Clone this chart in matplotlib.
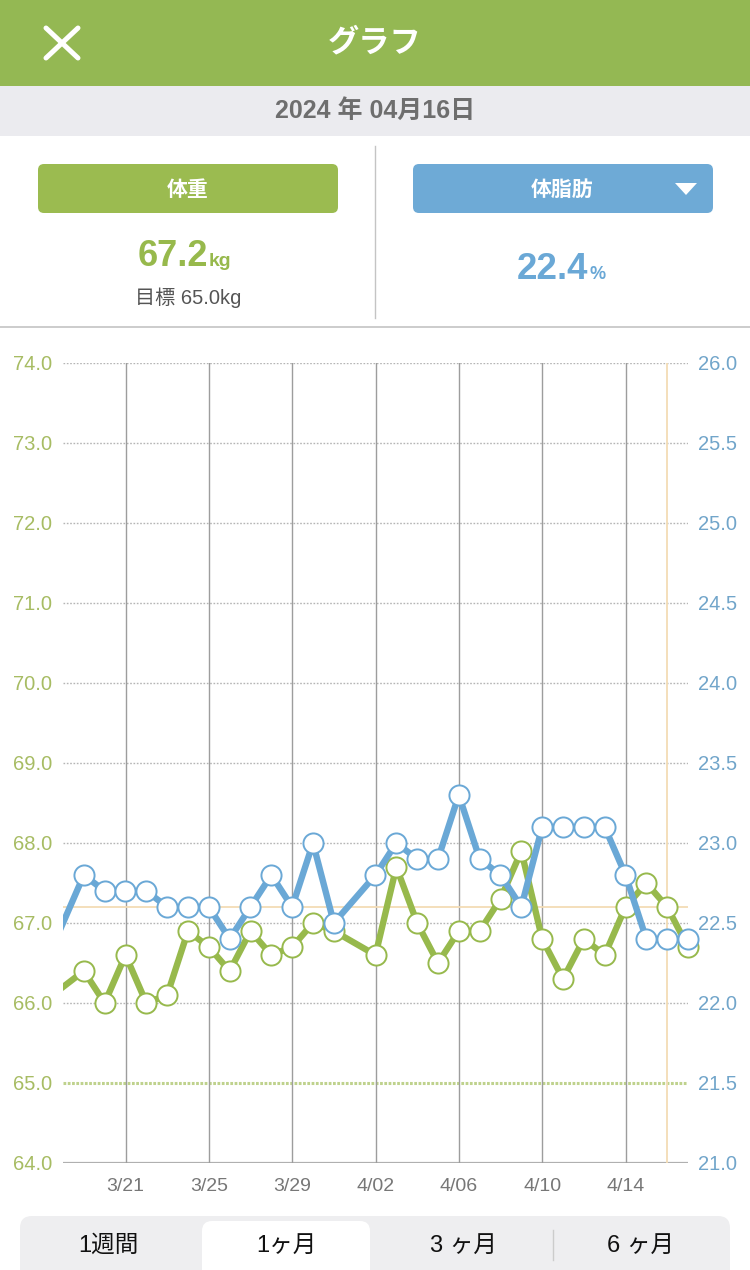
import matplotlib
matplotlib.use("Agg")
import matplotlib.pyplot as plt
import matplotlib.dates as mdates
from matplotlib.patches import FancyBboxPatch, Rectangle, Polygon
import pandas as pd

plt.rcParams['font.family'] = ['Noto Sans CJK JP', 'DejaVu Sans']
NUM_FONT = ['Liberation Sans', 'Noto Sans CJK JP']

# data (3/18 and 4/01 have no entry)
dates = ["2024-03-17", "2024-03-19", "2024-03-20", "2024-03-21", "2024-03-22",
         "2024-03-23", "2024-03-24", "2024-03-25", "2024-03-26", "2024-03-27",
         "2024-03-28", "2024-03-29", "2024-03-30", "2024-03-31", "2024-04-02",
         "2024-04-03", "2024-04-04", "2024-04-05", "2024-04-06", "2024-04-07",
         "2024-04-08", "2024-04-09", "2024-04-10", "2024-04-11", "2024-04-12",
         "2024-04-13", "2024-04-14", "2024-04-15", "2024-04-16", "2024-04-17"]
weight = [66.0, 66.4, 66.0, 66.6, 66.0, 66.1, 66.9, 66.7, 66.4, 66.9,
          66.6, 66.7, 67.0, 66.9, 66.6, 67.7, 67.0, 66.5, 66.9, 66.9,
          67.3, 67.9, 66.8, 66.3, 66.8, 66.6, 67.2, 67.5, 67.2, 66.7]
body_fat = [22.2, 22.8, 22.7, 22.7, 22.7, 22.6, 22.6, 22.6, 22.4, 22.6,
            22.8, 22.6, 23.0, 22.5, 22.8, 23.0, 22.9, 22.9, 23.3, 22.9,
            22.8, 22.6, 23.1, 23.1, 23.1, 23.1, 22.8, 22.4, 22.4, 22.4]

tick_dates = ["2024-03-21", "2024-03-25", "2024-03-29", "2024-04-02",
              "2024-04-06", "2024-04-10", "2024-04-14"]
tick_labels = ["3/21", "3/25", "3/29", "4/02", "4/06", "4/10", "4/14"]
weight_ticks = [64, 65, 66, 67, 68, 69, 70, 71, 72, 73, 74]
fat_ticks = [21.0, 21.5, 22.0, 22.5, 23.0, 23.5, 24.0, 24.5, 25.0, 25.5, 26.0]

x_start, x_end = "2024-03-18", "2024-04-17"
selected_date = "2024-04-16"
selected_weight = 67.2
selected_fat = 22.4
goal_weight = 65.0

GREEN = '#97b94c'
GREEN_TXT = '#a7bc63'
BLUE = '#6aa8d6'
BLUE_TXT = '#71a5ca'
ORANGE = '#f3dcb5'

fig = plt.figure(figsize=(7.5, 12.7), dpi=100)

# ---- app frame (pixel coordinates) ----
ui = fig.add_axes([0, 0, 1, 1], zorder=0)
ui.set_xlim(0, 750)
ui.set_ylim(1270, 0)
ui.axis('off')

ui.add_patch(Rectangle((0, 0), 750, 86, color='#94b853', lw=0))
ui.plot([46, 78], [28, 58], color='white', lw=3.6, solid_capstyle='round')
ui.plot([78, 46], [28, 58], color='white', lw=3.6, solid_capstyle='round')
ui.text(375, 42, "グラフ", color='white', fontsize=22.5, fontweight='bold',
        ha='center', va='center')

ui.add_patch(Rectangle((0, 86), 750, 50, color='#ebebef', lw=0))
ui.text(375, 111, "2024 年 04月16日", color='#6e6e6e', fontsize=18,
        fontweight='bold', ha='center', va='center', family=NUM_FONT)

ui.plot([375, 375], [146, 318], color='#c4c4c4', lw=1)
ui.plot([0, 750], [327, 327], color='#c4c4c4', lw=1.2)

ui.add_patch(FancyBboxPatch((38, 164), 300, 49, boxstyle="round,pad=0,rounding_size=6",
                            color='#9bbb50', lw=0))
ui.text(188, 189, "体重", color='white', fontsize=15, fontweight='bold',
        ha='center', va='center')
ui.add_patch(FancyBboxPatch((413, 164), 300, 49, boxstyle="round,pad=0,rounding_size=6",
                            color='#6eaad6', lw=0))
ui.text(562, 189, "体脂肪", color='white', fontsize=15, fontweight='bold',
        ha='center', va='center')
ui.add_patch(Polygon([(675, 183), (697, 183), (686, 195)], color='white', lw=0))

ui.text(208, 266, f"{selected_weight:.1f}", color=GREEN, fontsize=26,
        fontweight='bold', ha='right', va='baseline', family=NUM_FONT)
ui.text(209, 266, "kg", color=GREEN, fontsize=14, fontweight='bold',
        ha='left', va='baseline', family=NUM_FONT)
ui.text(188, 298, f"目標 {goal_weight:.1f}kg", color='#555555', fontsize=14.5,
        ha='center', va='center', family=NUM_FONT)
ui.text(588, 279, f"{selected_fat:.1f}", color=BLUE, fontsize=26.5,
        fontweight='bold', ha='right', va='baseline', family=NUM_FONT)
ui.text(589, 279, "%", color=BLUE, fontsize=13, fontweight='bold',
        ha='left', va='baseline', family=NUM_FONT)

# period selector
ui.add_patch(FancyBboxPatch((20, 1216), 710, 70, boxstyle="round,pad=0,rounding_size=12",
                            color='#eeeef0', lw=0))
ui.add_patch(FancyBboxPatch((202, 1221), 168, 60, boxstyle="round,pad=0,rounding_size=10",
                            color='white', lw=0))
ui.plot([553, 553], [1230, 1260], color='#cccccc', lw=1)
for label, cx in zip(["1週間", "1ヶ月", "3 ヶ月", "6 ヶ月"], [108, 286, 463, 641]):
    ui.text(cx, 1246, label, color='#111111', fontsize=17, ha='center', va='center',
            family=NUM_FONT)

# ---- chart ----
ax = fig.add_axes([63 / 750, 107 / 1270, 625 / 750, 800 / 1270], zorder=1)
ax.patch.set_alpha(0)
x = mdates.date2num(pd.to_datetime(dates))
x0 = mdates.date2num(pd.Timestamp(x_start))
x1 = mdates.date2num(pd.Timestamp(x_end))
xsel = mdates.date2num(pd.Timestamp(selected_date))
xt = mdates.date2num(pd.to_datetime(tick_dates))
shown = x >= x0

ax.set_xlim(x0, x1)
ax.set_ylim(64, 74)
for s in ax.spines.values():
    s.set_visible(False)

for v in weight_ticks[2:]:
    ax.axhline(v, color='#b5b5b5', lw=1, ls=(0, (1.2, 1.2)), zorder=1)
ax.axhline(goal_weight, color='#bfd28d', lw=2.2, ls=(0, (0.9, 0.5)), zorder=1)
ax.axhline(64, color='#b0b0b0', lw=1.6, zorder=1)
for t in xt:
    ax.axvline(t, color='#9d9d9d', lw=1, zorder=1)
ax.axvline(xsel, color=ORANGE, lw=1.3, zorder=1)
ax.axhline(selected_weight, color=ORANGE, lw=1.3, zorder=1)

ax.plot(x, weight, color=GREEN, lw=4.6, zorder=3)
ax.plot(x[shown], [w for w, s in zip(weight, shown) if s], ls='none', marker='o',
        ms=14.5, mfc='white', mec=GREEN, mew=1.4, zorder=3, clip_on=False)

ax.set_xticks(xt)
ax.set_xticklabels(tick_labels, family=NUM_FONT)
ax.set_yticks(weight_ticks)
ax.set_yticklabels([f"{v:.1f}" for v in weight_ticks], family=NUM_FONT)
ax.tick_params(axis='x', length=0, pad=11, labelsize=14, labelcolor='#777777')
ax.tick_params(axis='y', length=0, pad=8, labelsize=14.5, labelcolor=GREEN_TXT)

ax2 = ax.twinx()
ax2.set_ylim(21, 26)
for s in ax2.spines.values():
    s.set_visible(False)
ax2.plot(x, body_fat, color=BLUE, lw=4.6, zorder=3)
ax2.plot(x[shown], [f for f, s in zip(body_fat, shown) if s], ls='none', marker='o',
         ms=14.5, mfc='white', mec=BLUE, mew=1.4, zorder=3, clip_on=False)
ax2.set_yticks(fat_ticks)
ax2.set_yticklabels([f"{v:.1f}" for v in fat_ticks], family=NUM_FONT)
ax2.tick_params(axis='y', length=0, pad=7.5, labelsize=14.5, labelcolor=BLUE_TXT)

fig.savefig("out.png", dpi=100)
